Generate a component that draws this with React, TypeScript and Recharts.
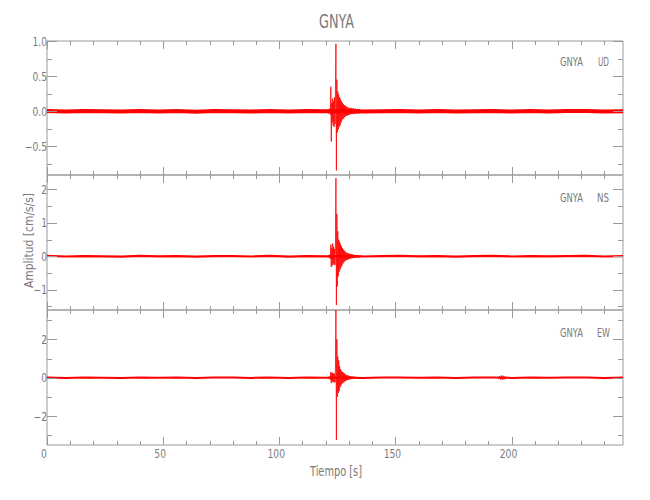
import { LineChart, Line, XAxis, YAxis, ReferenceArea } from "recharts";

const AXIS = "#9a9a9a";
const TEXT = "#7a7a7a";
const TRACE = "#ff0000";
const FONT = "'DejaVu Sans Condensed', 'DejaVu Sans', sans-serif";

const PLOT_L = 47;
const PLOT_R = 623;

// eje del tiempo
const timeMax = 248;
const xTicks = [0, 10, 20, 30, 40, 50, 60, 70, 80, 90, 100, 110, 120, 130, 140, 150, 160, 170, 180, 190, 200, 210, 220, 230, 240];
const xMajor = [0, 50, 100, 150, 200];

// ruido de fondo, una muestra cada 8 s
const noiseTimes = [0, 8, 16, 24, 32, 40, 48, 56, 64, 72, 80, 88, 96, 104, 112, 120, 128, 136, 144, 152, 160, 168, 176, 184, 192, 200, 208, 216, 224, 232, 240, 248];
const udNoise = [0.005, -0.003, 0.004, 0, -0.004, 0.006, -0.002, 0.003, -0.005, 0.004, 0.002, -0.003, 0.005, -0.004, 0.003, 0, 0.004, -0.003, 0.002, 0.005, -0.002, 0.003, -0.004, 0.002, 0.006, -0.003, 0.004, -0.002, 0.003, 0.005, -0.003, 0.002];
const nsNoise = [0.01, -0.006, 0.008, 0, -0.008, 0.01, -0.004, 0.006, -0.01, 0.008, 0.004, -0.006, 0.01, -0.008, 0.006, 0, 0.008, -0.006, 0.004, 0.01, -0.004, 0.006, -0.008, 0.004, 0.01, -0.006, 0.008, -0.004, 0.006, 0.01, -0.006, 0.004];
const ewNoise = [0.015, -0.01, 0.012, 0, -0.012, 0.015, -0.006, 0.01, -0.015, 0.012, 0.006, -0.01, 0.015, -0.012, 0.01, 0, 0.012, -0.01, 0.006, 0.015, -0.006, 0.01, -0.012, 0.006, 0.015, -0.01, 0.012, -0.006, 0.01, 0.015, -0.01, 0.006];

// sismo: muestras cada 0.2 s desde 121 s
const eventStart = 121;
const eventStep = 0.2;
const udEvent = [
  0.02, -0.03, 0.03, -0.02, 0.04, -0.05,
  0.35, -0.43, 0.12, -0.15, 0.18, -0.2,
  0.14, -0.22, 0.2, -0.18, 0.3, 0.96,
  -0.84, 0.45, -0.3, 0.28, -0.26, 0.24,
  -0.22, 0.2, -0.2, 0.17, -0.16, 0.14,
  -0.13, 0.12, -0.11, 0.1, -0.1, 0.09,
  -0.08, 0.08, -0.07, 0.07, -0.06, 0.06,
  -0.06, 0.05, -0.05, 0.05, -0.05, 0.04,
  -0.04, 0.05, -0.04, 0.04, -0.04, 0.04,
  -0.03, 0.04, -0.04, 0.03, -0.03, 0.04,
  -0.03, 0.03, -0.03, 0.03, -0.03, 0.03,
  -0.02, 0.03, -0.03, 0.02, -0.02, 0.02,
  -0.02, 0.02, -0.02, 0.02,
];
const nsEvent = [
  0.03, -0.03, 0.04, -0.03, 0.05, -0.08,
  0.35, -0.32, 0.25, -0.28, 0.38, -0.22,
  0.28, -0.26, 0.22, -0.25, 0.4, 2.34,
  -1.46, 1.27, -0.9, 0.75, -0.6, 0.5,
  -0.46, 0.44, -0.4, 0.36, -0.33, 0.3,
  -0.28, 0.25, -0.22, 0.2, -0.18, 0.17,
  -0.15, 0.14, -0.13, 0.12, -0.11, 0.1,
  -0.1, 0.09, -0.09, 0.08, -0.08, 0.07,
  -0.07, 0.07, -0.06, 0.06, -0.06, 0.05,
  -0.05, 0.05, -0.05, 0.04, -0.04, 0.04,
  -0.04, 0.04, -0.03, 0.03, -0.03, 0.03,
  -0.03, 0.03, -0.03, 0.02, -0.02, 0.02,
  -0.02, 0.02, -0.02, 0.02,
];
const ewEvent = [
  0.04, -0.05, 0.05, -0.04, 0.06, -0.1,
  0.3, -0.28, 0.25, -0.22, 0.26, -0.2,
  0.22, -0.25, 0.2, -0.24, 0.6, 3.7,
  -3.25, 2.0, -1.0, 1.1, -0.8, 0.9,
  -0.7, 0.6, -0.5, 0.45, -0.4, 0.35,
  -0.32, 0.3, -0.28, 0.26, -0.24, 0.22,
  -0.2, 0.18, -0.17, 0.15, -0.14, 0.13,
  -0.12, 0.11, -0.1, 0.1, -0.09, 0.08,
  -0.08, 0.07, -0.07, 0.06, -0.06, 0.06,
  -0.05, 0.05, -0.05, 0.05, -0.04, 0.04,
  -0.04, 0.04, -0.04, 0.04, -0.03, 0.03,
  -0.03, 0.03, -0.03, 0.03, -0.03, 0.03,
  -0.03, 0.03, -0.03, 0.03,
];
// segundo arribo pequeño en EW, muestras cada 0.4 s desde 194 s
const ewBumpStart = 194;
const ewBumpStep = 0.4;
const ewBump = [0.03, -0.05, 0.08, -0.1, 0.12, -0.12, 0.1, -0.09, 0.07, -0.05, 0.04, -0.03];

// ejes de amplitud
const udTicks = [-0.75, -0.5, -0.25, 0, 0.25, 0.5, 0.75, 1];
const udLabels: Record<string, string> = { "1": "1.0", "0.5": "0.5", "0": "0.0", "-0.5": "\u22120.5" };
const nsTicks = [-1.5, -1, -0.5, 0, 0.5, 1, 1.5, 2];
const nsLabels: Record<string, string> = { "2": "2", "1": "1", "0": "0", "-1": "\u22121" };
const ewTicks = [-3, -2, -1, 0, 1, 2, 3];
const ewLabels: Record<string, string> = { "2": "2", "0": "0", "-2": "\u22122" };

const toSeries = (start: number, step: number, values: number[]) =>
  values.map((v, i) => ({ t: Math.round((start + i * step) * 100) / 100, v }));

const noiseSeries = (values: number[]) => values.map((v, i) => ({ t: noiseTimes[i], v }));

// texto estrecho, al estilo de la fuente de IDL
function Txt({ x, y, len, size, children }: { x: number; y: number; len: number; size: number; children: string }) {
  return (
    <text x={x} y={y} fontSize={size} textLength={len} lengthAdjust="spacingAndGlyphs">
      {children}
    </text>
  );
}

function TickText({ x, y, anchor, children }: { x: number; y: number; anchor: "end" | "middle"; children: string }) {
  return (
    <text
      transform={`translate(${x},${y}) scale(0.85,1)`}
      textAnchor={anchor}
      fill={TEXT}
      fontSize={12}
      fontFamily={FONT}
    >
      {children}
    </text>
  );
}

type PanelProps = {
  top: number;
  height: number;
  domain: [number, number];
  ticks: number[];
  labels: Record<string, string>;
  noise: number[];
  noiseWidth: number;
  bursts: { t: number; v: number }[][];
  showX: boolean;
};

function Panel({ top, height, domain, ticks, labels, noise, noiseWidth, bursts, showX }: PanelProps) {
  const pad = 8;
  const bottomPad = showX ? 30 : 8;
  const plotTop = pad;
  const plotBottom = pad + height;

  const renderXTick = (p: any) => {
    const value = p.payload.value;
    const cx = p.payload.coordinate ?? p.x;
    const x = Math.round(cx) + 0.5;
    const major = xMajor.includes(value);
    const len = major ? 8 : 4;
    return (
      <g key={`x-${value}`}>
        <line x1={x} x2={x} y1={plotBottom} y2={plotBottom - len} stroke={AXIS} />
        <line x1={x} x2={x} y1={plotTop} y2={plotTop + len} stroke={AXIS} />
        {showX && major && (
          <TickText x={cx - 3} y={plotBottom + 13} anchor="middle">
            {String(value)}
          </TickText>
        )}
      </g>
    );
  };

  const renderYTick = (p: any) => {
    const value = p.payload.value;
    const cy = p.payload.coordinate ?? p.y;
    const y = Math.round(cy) + 0.5;
    const label = labels[String(value)];
    const len = label !== undefined ? 10 : 5;
    return (
      <g key={`y-${value}`}>
        <line x1={PLOT_L} x2={PLOT_L + len} y1={y} y2={y} stroke={AXIS} />
        <line x1={PLOT_R - len} x2={PLOT_R} y1={y} y2={y} stroke={AXIS} />
        {label !== undefined && (
          <TickText x={PLOT_L} y={cy + 4.5} anchor="end">
            {label}
          </TickText>
        )}
      </g>
    );
  };

  return (
    <div style={{ position: "absolute", left: 0, top: top - pad }}>
      <LineChart width={650} height={height + pad + bottomPad} margin={{ top: pad, right: 650 - PLOT_R, bottom: 0, left: 0 }}>
        <XAxis
          type="number"
          dataKey="t"
          domain={[0, timeMax]}
          ticks={xTicks}
          interval={0}
          tick={renderXTick}
          tickLine={false}
          axisLine={false}
          height={bottomPad}
          allowDataOverflow
        />
        <YAxis
          type="number"
          domain={domain}
          ticks={ticks}
          interval={0}
          tick={renderYTick}
          tickLine={false}
          axisLine={false}
          width={PLOT_L}
          allowDataOverflow
        />
        <ReferenceArea x1={0} x2={timeMax} y1={domain[0]} y2={domain[1]} fill="none" stroke={AXIS} strokeWidth={1} />
        <Line
          data={noiseSeries(noise)}
          dataKey="v"
          stroke={TRACE}
          strokeWidth={noiseWidth}
          dot={false}
          isAnimationActive={false}
        />
        {bursts.map((b, i) => (
          <Line
            key={i}
            data={b}
            dataKey="v"
            stroke={TRACE}
            strokeWidth={0.8}
            dot={false}
            isAnimationActive={false}
          />
        ))}
      </LineChart>
    </div>
  );
}

export default function App() {
  return (
    <div style={{ position: "absolute", left: 0, top: 0, width: 650, height: 500, background: "#fff" }}>
      <Panel
        top={41}
        height={134}
        domain={[-0.906, 1.0]}
        ticks={udTicks}
        labels={udLabels}
        noise={udNoise}
        noiseWidth={4}
        bursts={[toSeries(eventStart, eventStep, udEvent)]}
        showX={false}
      />
      <Panel
        top={175}
        height={135}
        domain={[-1.608, 2.434]}
        ticks={nsTicks}
        labels={nsLabels}
        noise={nsNoise}
        noiseWidth={2.2}
        bursts={[toSeries(eventStart, eventStep, nsEvent)]}
        showX={false}
      />
      <Panel
        top={310}
        height={135}
        domain={[-3.51, 3.53]}
        ticks={ewTicks}
        labels={ewLabels}
        noise={ewNoise}
        noiseWidth={2}
        bursts={[toSeries(eventStart, eventStep, ewEvent), toSeries(ewBumpStart, ewBumpStep, ewBump)]}
        showX={true}
      />
      <svg width={650} height={500} style={{ position: "absolute", left: 0, top: 0, pointerEvents: "none" }}>
        <g fill={TEXT} fontFamily={FONT}>
          <Txt x={319} y={28} len={35} size={20}>GNYA</Txt>
          <Txt x={560} y={66} len={23} size={13}>GNYA</Txt>
          <Txt x={598} y={66} len={11} size={13}>UD</Txt>
          <Txt x={560} y={202} len={23} size={13}>GNYA</Txt>
          <Txt x={597} y={202} len={12} size={13}>NS</Txt>
          <Txt x={560} y={337} len={23} size={13}>GNYA</Txt>
          <Txt x={597} y={337} len={13} size={13}>EW</Txt>
          <Txt x={310} y={476} len={52} size={14}>Tiempo [s]</Txt>
          <g transform="translate(33,288) rotate(-90)">
            <Txt x={0} y={0} len={95} size={13}>Amplitud [cm/s/s]</Txt>
          </g>
        </g>
      </svg>
    </div>
  );
}
